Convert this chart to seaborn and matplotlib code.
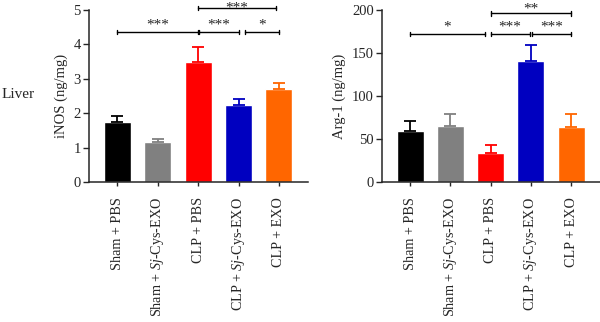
import numpy as np
import pandas as pd
import matplotlib
matplotlib.use("Agg")
import matplotlib.pyplot as plt
import seaborn as sns

groups = ["Sham + PBS", "Sham + $\\mathit{Sj}$-Cys-EXO", "CLP + PBS",
          "CLP + $\\mathit{Sj}$-Cys-EXO", "CLP + EXO"]
colors = ["#000000", "#808080", "#ff0000", "#0000c0", "#ff6600"]
inos_mean = [1.73, 1.15, 3.49, 2.23, 2.70]
inos_err = [0.19, 0.09, 0.43, 0.17, 0.19]
arg_mean = [59.5, 65.5, 34.0, 141.0, 63.5]
arg_err = [12.0, 13.5, 9.5, 18.0, 15.5]

inos_brackets = [(0.0, 2.0, 4.37, "***"), (2.02, 3.0, 4.37, "***"),
                 (3.15, 4.0, 4.37, "*"), (2.0, 3.93, 5.05, "***")]
arg_brackets = [(0.0, 1.85, 172, "*"), (2.0, 2.97, 172, "***"),
                (3.04, 4.0, 172, "***"), (2.0, 4.0, 196, "**")]

sns.set_style("ticks")
plt.rcParams["font.family"] = ["Liberation Serif", "DejaVu Serif"]
plt.rcParams["mathtext.fontset"] = "custom"
plt.rcParams["mathtext.rm"] = "Liberation Serif"
plt.rcParams["mathtext.it"] = "Liberation Serif:italic"

fig = plt.figure(figsize=(6.0, 3.22), dpi=100)
W, H = 600, 322
ax1 = fig.add_axes([89 / W, 1 - 182 / H, 219 / W, 172 / H])
ax2 = fig.add_axes([382 / W, 1 - 182 / H, 218 / W, 172 / H])


def panel(ax, means, errs, ylim, yticks, ylabel, brackets, tick_h, top_y):
    df = pd.DataFrame({"group": groups, "value": means})
    sns.barplot(data=df, x="group", y="value", hue="group", palette=colors,
                order=groups, hue_order=groups, legend=False, width=0.67,
                saturation=1, errorbar=None, ax=ax)
    x = np.arange(len(groups))
    for i in range(len(groups)):
        ax.errorbar(x[i], means[i], yerr=[[0], [errs[i]]], fmt="none",
                    ecolor=colors[i], elinewidth=1.3, capsize=4.5,
                    capthick=1.3, zorder=1)
    ax.set_xlim(-0.7, 4.72)
    ax.set_ylim(*ylim)
    ax.set_yticks(yticks)
    ax.set_xlabel("")
    ax.set_ylabel(ylabel, fontsize=10.5, labelpad=4)
    ax.set_xticks(x)
    ax.set_xticklabels(groups, rotation=90, fontsize=10.2)
    ax.tick_params(axis="y", labelsize=10.5, length=4, width=1, pad=2)
    ax.tick_params(axis="x", length=3, width=1, pad=8)
    sns.despine(ax=ax)
    for sp in ("left", "bottom"):
        ax.spines[sp].set_linewidth(1.1)
    for x0, x1, y, txt in brackets:
        ax.plot([x0, x1], [y, y], color="black", lw=1, clip_on=False)
        for xx in (x0, x1):
            ax.plot([xx, xx], [y - tick_h, y + tick_h], color="black", lw=1,
                    clip_on=False)
        off = -2.0 if y == top_y and ax is ax1 else 2.5
        if y == top_y and ax is ax2:
            off = 1.0
        ax.annotate(txt, xy=((x0 + x1) / 2, y), xytext=(0, off),
                    textcoords="offset points", ha="center", va="baseline",
                    fontsize=11, annotation_clip=False)


panel(ax1, inos_mean, inos_err, (0, 5), [0, 1, 2, 3, 4, 5], "iNOS (ng/mg)",
      inos_brackets, 0.06, 5.05)
panel(ax2, arg_mean, arg_err, (0, 200), [0, 50, 100, 150, 200],
      "Arg-1 (ng/mg)", arg_brackets, 2.4, 196)

fig.text(2 / W, 1 - 95 / H, "Liver", ha="left", va="center", fontsize=11)

fig.savefig("out.png", dpi=100)
